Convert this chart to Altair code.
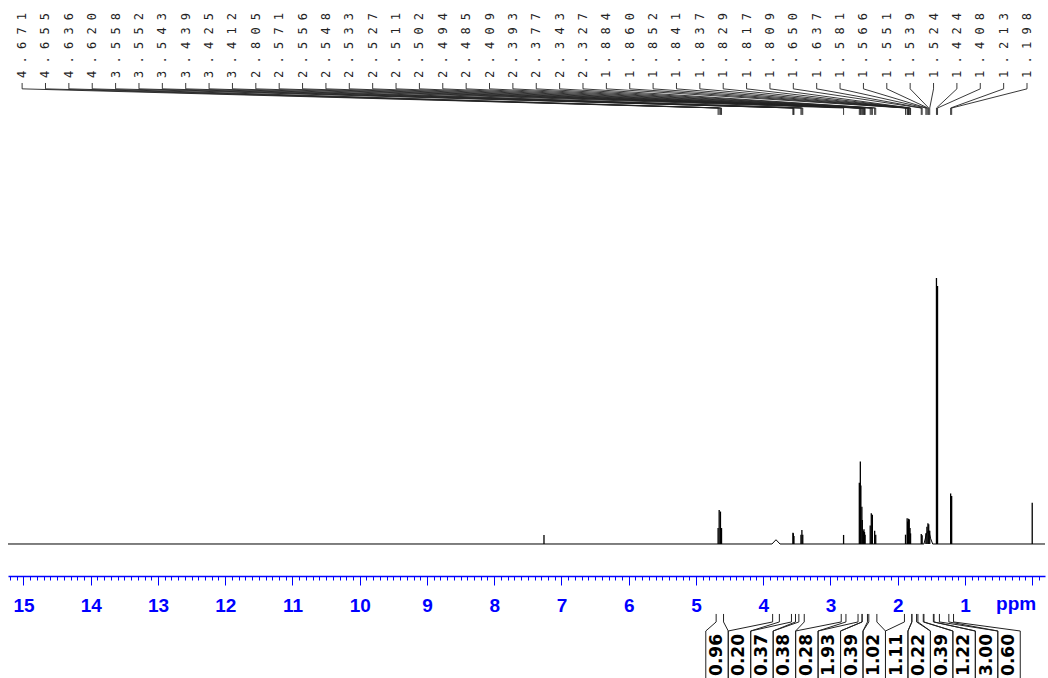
import altair as alt
import pandas as pd

# ---------------------------------------------------------------------------
# 1H NMR spectrum: picked lines (ppm) with their heights (tallest line = 100)
# ---------------------------------------------------------------------------
PEAK_PPM = [4.671, 4.655, 4.636, 4.620, 3.558, 3.552, 3.543, 3.439, 3.425, 3.412,
            2.805, 2.571, 2.556, 2.548, 2.533, 2.527, 2.511, 2.502, 2.494, 2.485,
            2.409, 2.393, 2.377, 2.343, 2.327, 1.884, 1.860, 1.852, 1.841, 1.837,
            1.829, 1.817, 1.809, 1.650, 1.637, 1.581, 1.566, 1.551, 1.539, 1.524,
            1.424, 1.408, 1.213, 1.198]
PEAK_HEIGHT = [6.0, 12.8, 12.2, 6.0, 4.2, 4.0, 3.0, 3.5, 5.3, 3.5,
               3.4, 23.0, 31.0, 22.0, 14.0, 9.0, 5.0, 5.5, 4.5, 3.5,
               7.0, 11.6, 11.0, 5.0, 3.5, 3.5, 9.7, 8.5, 9.5, 9.0,
               9.3, 6.0, 4.0, 3.8, 3.3, 4.0, 6.5, 7.8, 7.4, 5.0,
               100.0, 97.0, 19.0, 18.0]

# unlabelled reference lines: residual CHCl3 and TMS
REF_PPM = [7.26, 0.00]
REF_HEIGHT = [3.4, 15.5]

# baseline trace, including the broad humps
BASE_PPM = [15.23, 3.87, 3.81, 3.75, 1.61, 1.57, 1.54, 1.51, 1.48, -0.19]
BASE_INT = [0.0, 0.0, 1.6, 0.0, 0.0, 4.0, 5.0, 2.0, 0.0, 0.0]

# integrated regions (ppm) and their values
INTEGRAL_LABELS = ["0.96", "0.20", "0.37", "0.38", "0.28", "1.93", "0.39",
                   "1.02", "1.11", "0.22", "0.39", "1.22", "3.00", "0.60"]
INTEGRAL_FROM = [4.70, 3.86, 3.58, 3.47, 2.84, 2.59, 2.53, 2.43, 1.90, 1.79, 1.70, 1.61, 1.46, 1.24]
INTEGRAL_TO = [4.59, 3.76, 3.52, 3.39, 2.77, 2.53, 2.45, 2.31, 1.79, 1.72, 1.62, 1.47, 1.38, 1.17]

# ppm axis
PPM_MAX, PPM_MIN = 15.23, -0.19
MINOR_TICKS = [round(i * 0.1, 1) for i in range(-1, 153)]

# vertical layout, in intensity units
Y_MIN, Y_MAX = -12.03, 204.5
PEAK_TEXT_Y = 175.2
PEAK_LEG_Y = [173.3, 171.1, 163.9, 161.3]
INT_LEG_Y = [-26.3, -29.3, -32.7, -50.4]
INT_TEXT_Y = -49.6
UNIT_TEXT_Y = -19.2

# label slots along the ppm axis
PEAK_SLOT_FIRST, PEAK_SLOT_STEP = 15.02, 0.3475
INT_SLOT_FIRST, INT_SLOT_STEP = 4.687, 0.334

BLUE = "#0000ff"

# ---------------------------------------------------------------------------
sticks = pd.DataFrame({"ppm": PEAK_PPM + REF_PPM,
                       "h": PEAK_HEIGHT + REF_HEIGHT})
sticks["base"] = 0.0

baseline = pd.DataFrame({"ppm": BASE_PPM, "h": BASE_INT})

peak_text = pd.DataFrame({
    "slot": [PEAK_SLOT_FIRST - i * PEAK_SLOT_STEP for i in range(len(PEAK_PPM))],
    "label": [" ".join(f"{v:.3f}") for v in PEAK_PPM],
})
peak_text["y"] = PEAK_TEXT_Y

rows = []
for i, v in enumerate(PEAK_PPM):
    slot = PEAK_SLOT_FIRST - i * PEAK_SLOT_STEP
    for k, (px, py) in enumerate(zip([slot, slot, v, v], PEAK_LEG_Y)):
        rows.append({"key": f"p{i}", "step": k, "ppm": px, "y": py})
peak_links = pd.DataFrame(rows)

rows = []
half = INT_SLOT_STEP / 2
for j, (a, b) in enumerate(zip(INTEGRAL_FROM, INTEGRAL_TO)):
    c = INT_SLOT_FIRST - j * INT_SLOT_STEP
    for side, edge, box in (("l", a, c + half), ("r", b, c - half)):
        for k, (px, py) in enumerate(zip([edge, edge, box, box], INT_LEG_Y)):
            rows.append({"key": f"i{j}{side}", "step": k, "ppm": px, "y": py})
int_links = pd.DataFrame(rows)

int_text = pd.DataFrame({
    "slot": [INT_SLOT_FIRST - j * INT_SLOT_STEP for j in range(len(INTEGRAL_LABELS))],
    "label": INTEGRAL_LABELS,
})
int_text["y"] = INT_TEXT_Y

unit_text = pd.DataFrame({"ppm": [0.24], "y": [UNIT_TEXT_Y], "label": ["ppm"]})

# ---------------------------------------------------------------------------
x_scale = alt.Scale(domain=[PPM_MIN, PPM_MAX], reverse=True, nice=False, zero=False)
y_scale = alt.Scale(domain=[Y_MIN, Y_MAX], nice=False, zero=False)

is_major = "abs(datum.value - round(datum.value)) < 0.001"
x_axis = alt.Axis(
    title=None, values=MINOR_TICKS, grid=False,
    domainColor=BLUE, domainWidth=1.3, tickColor=BLUE, tickWidth=1,
    tickSize={"condition": {"test": is_major, "value": 9}, "value": 4},
    labelExpr=f"({is_major}) && datum.value > 0.5 ? '' + round(datum.value) : ''",
    labelColor=BLUE, labelFont="Liberation Sans", labelFontWeight="bold",
    labelFontSize=19, labelPadding=11, labelOverlap=False, labelFlush=False,
    labelBound=False,
)


def X(field):
    return alt.X(field, type="quantitative", scale=x_scale, axis=x_axis)


def Y(field):
    return alt.Y(field, type="quantitative", scale=y_scale, axis=None)


line_layer = alt.Chart(baseline).mark_line(color="black", strokeWidth=1).encode(
    x=X("ppm"), y=Y("h"), order="ppm:Q")

stick_layer = alt.Chart(sticks).mark_rule(color="black", strokeWidth=1.3).encode(
    x=X("ppm"), y=Y("base"), y2="h")

peak_text_layer = alt.Chart(peak_text).mark_text(
    angle=270, align="left", baseline="middle", font="DejaVu Sans Mono",
    fontSize=12, color="#222222").encode(x=X("slot"), y=Y("y"), text="label")

peak_link_layer = alt.Chart(peak_links).mark_line(color="#222222", strokeWidth=0.9).encode(
    x=X("ppm"), y=Y("y"), detail="key", order="step:Q")

int_link_layer = alt.Chart(int_links).mark_line(color="#222222", strokeWidth=1).encode(
    x=X("ppm"), y=Y("y"), detail="key", order="step:Q")

int_text_layer = alt.Chart(int_text).mark_text(
    angle=270, align="left", baseline="middle", font="DejaVu Sans",
    fontWeight="bold", fontSize=17, color="black").encode(
    x=X("slot"), y=Y("y"), text="label")

unit_layer = alt.Chart(unit_text).mark_text(
    align="center", baseline="top", font="Liberation Sans", fontWeight="bold",
    fontSize=19, color=BLUE).encode(x=X("ppm"), y=Y("y"), text="label")

chart = alt.layer(
    line_layer, stick_layer, peak_link_layer, peak_text_layer,
    int_link_layer, int_text_layer, unit_layer,
).properties(
    width=1037, height=576, autosize="none",
    padding={"left": 8, "right": 3, "top": 0, "bottom": 102},
    background="white",
).configure_view(strokeWidth=0)

chart.save("out.html", embed_options={"renderer": "svg", "actions": False})
